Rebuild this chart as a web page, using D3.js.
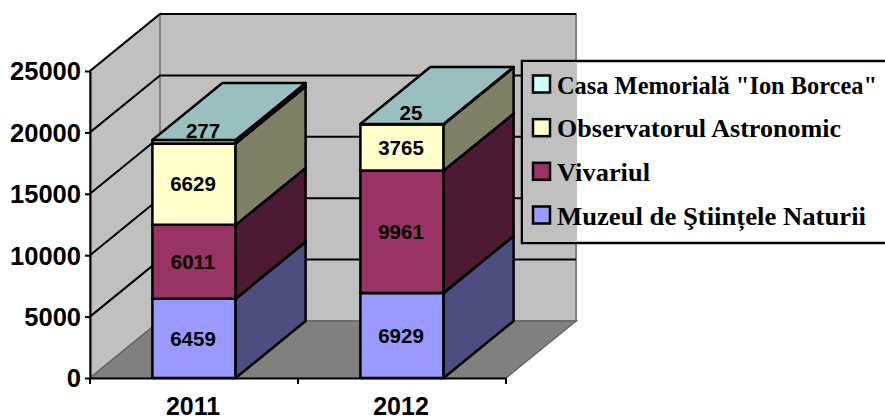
<!DOCTYPE html>
<html>
<head>
<meta charset="utf-8">
<script src="https://cdn.jsdelivr.net/npm/d3@7"></script>
<style>
  html, body { margin: 0; padding: 0; background: #fff; overflow: hidden; }
  svg { display: block; }
  .num { font-family: "Liberation Sans", Arial, sans-serif; font-weight: bold; fill: #000; }
  .leg { font-family: "Liberation Serif", serif; font-weight: bold; fill: #000; font-size: 25px; }
</style>
</head>
<body>
<div id="main"></div>
<script>
"use strict";
var years = ["2011", "2012"];
var seriesNames = ["Muzeul de Ştiințele Naturii", "Vivariul", "Observatorul Astronomic", "Casa Memorială \"Ion Borcea\""];
var muzeul = [6459, 6929];
var vivariul = [6011, 9961];
var observator = [6629, 3765];
var casa = [277, 25];
var yTicks = [0, 5000, 10000, 15000, 20000, 25000];
var colors = ["#9999ff", "#993366", "#ffffcc", "#ccffff"];
// the original legend face is wider than the serif we have, so fit each label
var legendWidths = [309, 93, 284, 320];

var W = 885, H = 419;
var left = 90, right = 506, base = 378, top25 = 71;
var depthX = 70, depthY = 57;

var svg = d3.select("#main").append("svg").attr("width", W).attr("height", H);
var x = d3.scaleBand().domain(years).range([left, right]).paddingInner(0.6).paddingOuter(0.3);
var y = d3.scaleLinear().domain([0, 25000]).range([base, top25]);

var rows = years.map(function(yr, i) {
  return { year: yr, s0: muzeul[i], s1: vivariul[i], s2: observator[i], s3: casa[i] };
});
var stacked = d3.stack().keys(["s0", "s1", "s2", "s3"])(rows);

function pts(a) { return a.map(function(p) { return p.join(","); }).join(" "); }
var line = "#000", wallEdge = "#808080";

// walls and floor
svg.append("polygon").attr("points", pts([[left, base], [left + depthX, base - depthY], [left + depthX, y(25000) - depthY], [left, y(25000)]]))
  .attr("fill", "#c0c0c0").attr("stroke", wallEdge).attr("stroke-width", 2);
svg.append("rect").attr("x", left + depthX).attr("y", y(25000) - depthY).attr("width", right - left).attr("height", base - y(25000))
  .attr("fill", "#c0c0c0").attr("stroke", wallEdge).attr("stroke-width", 2);
svg.append("polygon").attr("points", pts([[left, base], [left + depthX, base - depthY], [right + depthX, base - depthY], [right, base]]))
  .attr("fill", "#808080").attr("stroke", "#666").attr("stroke-width", 1.5);

// gridlines
svg.append("g").selectAll("path").data(yTicks.slice(1)).join("path")
  .attr("fill", "none").attr("stroke", line).attr("stroke-width", 2)
  .attr("d", function(t) {
    return "M" + left + "," + y(t) + "L" + (left + depthX) + "," + (y(t) - depthY) + "H" + (right + depthX);
  });

// axes
var yAxis = svg.append("g").attr("transform", "translate(" + left + ",0)")
  .call(d3.axisLeft(y).tickValues(yTicks).tickFormat(d3.format("d")).tickSize(5).tickPadding(4).tickSizeOuter(0));
yAxis.selectAll("path, line").attr("stroke", line).attr("stroke-width", 2);
yAxis.selectAll("text").attr("class", "num").style("font-size", "25.5px").attr("dy", "0.35em");

var xAxis = svg.append("g").attr("transform", "translate(0," + base + ")")
  .call(d3.axisBottom(x).tickSize(0).tickPadding(19).tickSizeOuter(0));
xAxis.select("path").attr("stroke", line).attr("stroke-width", 2);
xAxis.selectAll("text").attr("class", "num").style("font-size", "25px").attr("dx", "-1");
// category separators sit between the bands
var seps = [left, left + x.step(), left + 2 * x.step()];
svg.append("g").selectAll("line").data(seps).join("line")
  .attr("x1", function(d) { return d; }).attr("x2", function(d) { return d; })
  .attr("y1", base).attr("y2", base + 6).attr("stroke", line).attr("stroke-width", 2);

// stacked boxes
var bars = svg.append("g");
stacked.forEach(function(layer, k) {
  var c = d3.color(colors[k]);
  var sideCol = d3.rgb(c.r * 0.5, c.g * 0.5, c.b * 0.5);
  var topCol = d3.rgb(c.r * 0.75, c.g * 0.75, c.b * 0.75);
  layer.forEach(function(d) {
    var x0 = x(d.data.year), x1 = x0 + x.bandwidth();
    var yb = y(d[0]), yt = y(d[1]);
    var g = bars.append("g").attr("stroke", line).attr("stroke-width", 2.5).attr("stroke-linejoin", "round");
    g.append("rect").attr("x", x0).attr("y", yt).attr("width", x1 - x0).attr("height", yb - yt).attr("fill", colors[k]);
    g.append("polygon").attr("points", pts([[x1, yb], [x1 + depthX, yb - depthY], [x1 + depthX, yt - depthY], [x1, yt]])).attr("fill", sideCol);
    g.append("polygon").attr("points", pts([[x0, yt], [x0 + depthX, yt - depthY], [x1 + depthX, yt - depthY], [x1, yt]])).attr("fill", topCol);
  });
});

// value labels, very thin segments get lifted onto the top face
stacked.forEach(function(layer) {
  layer.forEach(function(d) {
    var v = d[1] - d[0], small = v < 1000;
    svg.append("text").attr("class", "num").style("font-size", "20.5px")
      .attr("text-anchor", "middle").attr("dy", "0.35em")
      .attr("x", x(d.data.year) + x.bandwidth() / 2 - 1 + (small ? 10 : 0))
      .attr("y", (y(d[0]) + y(d[1])) / 2 - (small ? 11 : 0))
      .text(v);
  });
});

// legend, wall shows through only as far as the wall goes
var legX = 522, legY = 61, legH = 182;
svg.append("rect").attr("x", legX).attr("y", legY).attr("width", W - legX + 5).attr("height", legH)
  .attr("fill", "#fff").attr("stroke", line).attr("stroke-width", 2.5);
svg.append("rect").attr("x", legX + 1).attr("y", legY + 1).attr("width", right + depthX - legX).attr("height", legH - 2).attr("fill", "#c0c0c0");
var legendOrder = d3.range(seriesNames.length).reverse();
var rowY = d3.scalePoint().domain(legendOrder).range([84, 215]);
var items = svg.append("g").selectAll("g").data(legendOrder).join("g")
  .attr("transform", function(i) { return "translate(533," + rowY(i) + ")"; });
items.append("rect").attr("y", -8.5).attr("width", 17).attr("height", 17)
  .attr("fill", function(i) { return colors[i]; }).attr("stroke", line).attr("stroke-width", 2.5);
items.append("text").attr("class", "leg").attr("x", 24).attr("dy", "0.38em")
  .attr("textLength", function(i) { return legendWidths[i]; }).attr("lengthAdjust", "spacingAndGlyphs")
  .text(function(i) { return seriesNames[i]; });
</script>
</body>
</html>
